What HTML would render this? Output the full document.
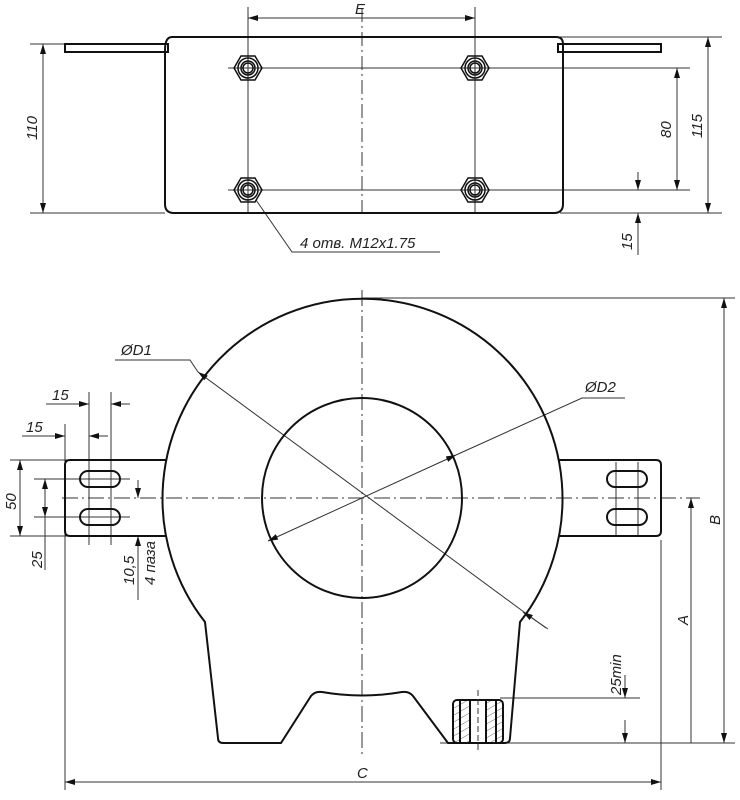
<!DOCTYPE html>
<html><head><style>body{margin:0;background:#fff}svg{display:block}text{font-family:"Liberation Sans",sans-serif;font-style:italic;font-size:15px;fill:#222}</style></head><body>
<svg width="740" height="800" viewBox="0 0 740 800" xmlns="http://www.w3.org/2000/svg">
<defs>
<marker id="a" viewBox="0 0 10 6" refX="10" refY="3" markerWidth="10" markerHeight="6" orient="auto-start-reverse" markerUnits="userSpaceOnUse"><path d="M0,0L10,3L0,6z" fill="#111"/></marker>
<pattern id="h" width="6" height="6" patternUnits="userSpaceOnUse" patternTransform="rotate(60)"><line x1="0" y1="0" x2="0" y2="6" stroke="#444" stroke-width="0.8"/></pattern>
<g id="nut"><polygon points="-14,0 -7,-12 7,-12 14,0 7,12 -7,12"/><circle r="10"/><circle r="7"/><circle r="5"/></g>
</defs>
<g fill="none" stroke="#333" stroke-width="1">
<line x1="362" y1="8" x2="362" y2="218" stroke-dasharray="14,4,2,4"/>
<line x1="248" y1="7" x2="248" y2="213"/><line x1="475" y1="7" x2="475" y2="213"/>
<line x1="248" y1="18" x2="475" y2="18" marker-start="url(#a)" marker-end="url(#a)"/>
<line x1="228" y1="68" x2="690" y2="68"/><line x1="228" y1="190" x2="690" y2="190"/>
<line x1="30" y1="44" x2="65" y2="44"/><line x1="30" y1="213" x2="165" y2="213"/>
<line x1="43" y1="44" x2="43" y2="213" marker-start="url(#a)" marker-end="url(#a)"/>
<line x1="560" y1="37" x2="722" y2="37"/><line x1="560" y1="213" x2="722" y2="213"/>
<line x1="708" y1="37" x2="708" y2="213" marker-start="url(#a)" marker-end="url(#a)"/>
<line x1="677" y1="68" x2="677" y2="190" marker-start="url(#a)" marker-end="url(#a)"/>
<line x1="638" y1="172" x2="638" y2="190" marker-end="url(#a)"/>
<line x1="638" y1="255" x2="638" y2="213" marker-end="url(#a)"/>
<polyline points="256,200 292,252 440,252"/>
</g>
<g fill="none" stroke="#111" stroke-width="2">
<path d="M172,37 H556 Q563,37 563,44 V204 Q563,213 554,213 H174 Q165,213 165,204 V50 Q165,37 172,37"/>
<rect x="65" y="44" width="103" height="8"/>
<rect x="558" y="44" width="103" height="8"/>
</g>
<g fill="none" stroke="#111" stroke-width="1.5">
<use href="#nut" x="248" y="68"/><use href="#nut" x="475" y="68"/><use href="#nut" x="248" y="190"/><use href="#nut" x="475" y="190"/>
</g>
<text x="355" y="14">E</text>
<text transform="translate(37,140) rotate(-90)">110</text>
<text transform="translate(702,138) rotate(-90)">115</text>
<text transform="translate(671,138) rotate(-90)">80</text>
<text transform="translate(632,250) rotate(-90)">15</text>
<text x="300" y="248">4  отв.   M12x1.75</text>

<g fill="none" stroke="#333" stroke-width="1">
<line x1="362" y1="290" x2="362" y2="758" stroke-dasharray="16,4,2,4"/>
<line x1="62" y1="498" x2="700" y2="498" stroke-dasharray="16,4,2,4"/>
<line x1="89" y1="392" x2="89" y2="545"/><line x1="111" y1="392" x2="111" y2="545"/>
<line x1="65" y1="424" x2="65" y2="790"/><line x1="661" y1="540" x2="661" y2="790"/>
<line x1="616" y1="462" x2="616" y2="536"/><line x1="638" y1="462" x2="638" y2="536"/>
<line x1="46" y1="404" x2="89" y2="404" marker-end="url(#a)"/><line x1="130" y1="404" x2="111" y2="404" marker-end="url(#a)"/>
<line x1="22" y1="436" x2="65" y2="436" marker-end="url(#a)"/><line x1="108" y1="436" x2="89" y2="436" marker-end="url(#a)"/>
<line x1="10" y1="460" x2="68" y2="460"/><line x1="10" y1="536" x2="68" y2="536"/>
<line x1="20" y1="460" x2="20" y2="536" marker-start="url(#a)" marker-end="url(#a)"/>
<line x1="34" y1="479" x2="130" y2="479"/><line x1="34" y1="517" x2="130" y2="517"/>
<line x1="45" y1="479" x2="45" y2="570"/>
<line x1="45" y1="479" x2="45" y2="517" marker-start="url(#a)" marker-end="url(#a)"/>
<line x1="115" y1="536" x2="152" y2="536"/>
<line x1="138" y1="480" x2="138" y2="498" marker-end="url(#a)"/><line x1="138" y1="600" x2="138" y2="536" marker-end="url(#a)"/>
<line x1="500" y1="698" x2="640" y2="698"/><line x1="440" y1="743" x2="735" y2="743"/>
<line x1="625" y1="675" x2="625" y2="698" marker-end="url(#a)"/>
<line x1="625" y1="720" x2="625" y2="743" marker-end="url(#a)"/>
<line x1="362" y1="298" x2="735" y2="298"/>
<line x1="724" y1="298" x2="724" y2="743" marker-start="url(#a)" marker-end="url(#a)"/>
<line x1="691" y1="743" x2="691" y2="498" marker-end="url(#a)"/>
<line x1="65" y1="782" x2="661" y2="782" marker-start="url(#a)" marker-end="url(#a)"/>
<polyline points="115,360 190,360 198,372"/>
<line x1="198" y1="372" x2="524" y2="612" marker-start="url(#a)"/>
<line x1="524" y1="612" x2="546" y2="628" />
<line x1="548" y1="629" x2="523" y2="612" marker-end="url(#a)"/>
<line x1="268" y1="541" x2="456" y2="455" marker-start="url(#a)" marker-end="url(#a)"/>
<polyline points="456,455 582,398 625,398"/>
</g>
<g fill="none" stroke="#111" stroke-width="2">
<path d="M205,622 A200,200 0 1 1 520,622 L510,738 Q510,743 505,743 L448,743 L413,696 Q409,691 402,692 Q362,699 322,692 Q315,691 311,696 L281,743 L223,743 Q218,743 218,738 Z"/>
<circle cx="362" cy="498" r="100"/>
<path d="M166,460 H70 Q65,460 65,465 V531 Q65,536 70,536 H166"/>
<path d="M558,460 H656 Q661,460 661,465 V531 Q661,536 656,536 H558"/>
<rect x="80" y="471" width="40" height="16" rx="8"/><rect x="80" y="509" width="40" height="16" rx="8"/>
<rect x="607" y="471" width="40" height="16" rx="8"/><rect x="607" y="509" width="40" height="16" rx="8"/>
<rect x="453" y="700" width="50" height="43" rx="4" fill="url(#h)"/>
<rect x="470" y="700" width="16" height="43" fill="#fff"/>
<line x1="460" y1="700" x2="460" y2="743"/><line x1="470" y1="700" x2="470" y2="743"/><line x1="486" y1="700" x2="486" y2="743"/><line x1="496" y1="700" x2="496" y2="743"/>
</g>
<line x1="478" y1="690" x2="478" y2="750" stroke="#333" stroke-dasharray="6,3"/>
<text x="121" y="355">ØD1</text>
<text x="585" y="392">ØD2</text>
<text x="52" y="400">15</text>
<text x="26" y="432">15</text>
<text transform="translate(16,510) rotate(-90)">50</text>
<text transform="translate(42,568) rotate(-90)">25</text>
<text transform="translate(134,585) rotate(-90)">10,5</text>
<text transform="translate(155,585) rotate(-90)">4 паза</text>
<text transform="translate(688,625) rotate(-90)">A</text>
<text transform="translate(720,525) rotate(-90)">B</text>
<text transform="translate(621,695) rotate(-90)">25min</text>
<text x="357" y="778">C</text>
</svg>
</body></html>
